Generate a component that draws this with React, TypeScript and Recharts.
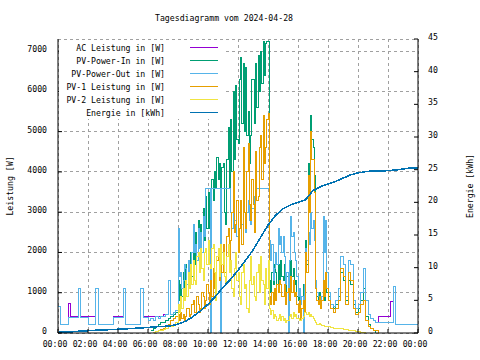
import React from 'react';
import { ComposedChart, Line, XAxis, YAxis, CartesianGrid } from 'recharts';

const FONT = "'DejaVu Sans Mono', 'Liberation Mono', monospace";
const FS = 8.2;

// time grid in minutes: 10-min samples at night, 5-min samples 08:00-17:55, 10-min again until 24:00
const minutes: number[] = [
  ...Array.from({ length: 48 }, (_, i) => i * 10),
  ...Array.from({ length: 120 }, (_, i) => 480 + i * 5),
  ...Array.from({ length: 37 }, (_, i) => 1080 + i * 10),
];

const N = null;

const acPower: (number | null)[] = [
  // 00:00 - 07:50 (10 min)
  650, 200, 200, 200, 740, 410,
  410, 410, 1110, 410, 410, 410,
  400, 400, 400, 1110, 200, 200,
  200, 200, 200, 200, 410, 410,
  410, 410, 1110, 200, 200, 200,
  200, 200, 200, 1110, 410, 410,
  410, 410, 410, 410, 410, 410,
  450, 450, 1300, 450, 500, 550,
  // 08:00 - 17:55 (5 min)
  2600, 1400, 1500, 1100, 1300, 1700, 1600, 1200, 1800, 1400, 1700, 2000,
  2700, 2000, 2200, 1800, 2600, 2100, 2500, 2000, 2900, 2400, 3600, 3600,
  3600, 3600, 400, 3600, 3600, 3600, 3600, 3600, 3600, 3600, 400, 3600,
  3600, 3600, 3600, 3600, 3600, 3600, 3000, 2600, 3400, 2800, 2800, 2400,
  2200, 2600, 3200, 2700, 3500, 3000, 2500, 3000, 3300, 2800, 2700, 3100,
  3100, 3400, 3600, 3600, 3600, 3600, 3600, 3600, 3600, 3600, 3600, 3600,
  3600, 2300, 1800, 2200, 1300, 1600, 2000, 1700, 2600, 2200, 2400, 2000,
  2400, 1900, 1200, 1500, 400, 1800, 2900, 2400, 2500, 2000, 1800, 1400,
  900, 1100, 700, 900, 400, 1200, 2100, 1800, 2500, 2200, 3000, 2600,
  2800, 2300, 1300, 1000, 900, 700, 700, 900, 2900, 2000, 2800, 1500,
  // 18:00 - 24:00 (10 min)
  1000, 700, 650, 800, 1100, 1900,
  1700, 900, 1800, 1700, 800, 600,
  700, 1000, 1600, 800, 450, 350,
  300, 250, 400, 400, 400, 400,
  400, 776, 1150, 200, 200, 200,
  200, 200, 200, 200, 200, 200,
  400,
];

const pvPowerOut: (number | null)[] = [
  650, 200, 200, 200, 380, 380,
  380, 380, 1110, 380, 380, 380,
  200, 200, 200, 1110, 200, 200,
  200, 200, 200, 200, 380, 380,
  380, 380, 1110, 200, 200, 200,
  200, 200, 200, 1110, 380, 380,
  300, 350, 300, 400, 350, 400,
  400, 450, 1300, 450, 500, 550,
  2600, 1400, 1500, 1100, 1300, 1700, 1600, 1200, 1800, 1400, 1700, 2000,
  2700, 2000, 2200, 1800, 2600, 2100, 2500, 2000, 2900, 2400, 3600, 3600,
  3600, 3600, 0, 3600, 3600, 3600, 3600, 3600, 3600, 3600, 0, 3600,
  3600, 3600, 3600, 3600, 3600, 3600, 3000, 2600, 3400, 2800, 2800, 2400,
  2200, 2600, 3200, 2700, 3500, 3000, 2500, 3000, 3300, 2800, 2700, 3100,
  3100, 3400, 3600, 3600, 3600, 3600, 3600, 3600, 3600, 3600, 3600, 3600,
  3600, 2300, 1800, 2200, 1300, 1600, 2000, 1700, 2600, 2200, 2400, 2000,
  2400, 1900, 1200, 1500, 0, 1800, 2900, 2400, 2500, 2000, 1800, 1400,
  900, 1100, 700, 900, 0, 1200, 2100, 1800, 2500, 2200, 3000, 2600,
  2800, 2300, 1300, 1000, 900, 700, 700, 900, 2900, 2000, 2800, 1500,
  1000, 700, 650, 800, 1100, 1900,
  1700, 900, 1800, 1700, 800, 600,
  700, 1000, 1600, 800, 450, 350,
  300, 250, 250, 250, 250, 250,
  250, 250, 1150, 200, 200, 200,
  200, 200, 200, 200, 200, 200,
  400,
];

const pvPowerIn: (number | null)[] = [
  N, N, N, N, N, N,
  N, N, N, N, N, N,
  N, N, N, N, N, N,
  N, N, N, N, N, N,
  N, N, N, N, N, N,
  N, N, N, N, N, N,
  N, 50, 100, 150, 200, 250,
  250, 300, 350, 400, 450, 500,
  1300, 800, 1200, 900, 1500, 1000, 1700, 1200, 1800, 1300, 2000, 1400,
  2300, 1700, 2500, 1900, 2800, 2100, 2700, 2000, 3100, 2300, 3400, 2600,
  3500, 2600, 2900, 3800, 3300, 4000, 3600, 4350, 3800, 4200, 3600, 4100,
  4200, 3000, 2700, 4300, 5100, 3600, 5300, 4000, 6000, 4300, 6150, 4800,
  4700, 6300, 6850, 5200, 6700, 5000, 6600, 4900, 5500, 4200, 4900, 6300,
  6300, 5200, 6700, 5600, 6900, 6000, 7000, 6200, 7250, 6400, 7200, 7250,
  7250, 1300, 1000, 1500, 1200, 1700, 1500, 1200, 1700, 1300, 1800, 1400,
  1300, 1700, 1000, 1400, 1500, 1100, 1800, 1400, 1600, 1200, 1300, 900,
  800, 1000, 700, 900, 1200, 900, 2300, 1700, 4200, 3500, 5400, 4800,
  4600, 3900, 1200, 900, 800, 1000, 700, 900, 1100, 800, 1400, 1000,
  900, 700, 600, 700, 900, 1500,
  1300, 800, 1300, 1200, 700, 500,
  600, 800, 1100, 400, 200, 100,
  50, 0, N, N, N, N,
  N, N, N, N, N, N,
  N, N, N, N, N, N,
  N,
];

const pv1Power: (number | null)[] = [
  N, N, N, N, N, N,
  N, N, N, N, N, N,
  N, N, N, N, N, N,
  N, N, N, N, N, N,
  N, N, N, N, N, N,
  N, N, N, N, N, N,
  N, N, 20, 40, 60, 80,
  100, 150, 200, 300, 350, 400,
  450, 300, 500, 350, 450, 300, 400, 600, 600, 400, 450, 700,
  800, 500, 500, 900, 700, 500, 600, 1000, 900, 600, 800, 1200,
  1000, 700, 1300, 900, 1600, 1100, 1200, 1800, 1900, 1300, 2100, 1500,
  2200, 1500, 1500, 2400, 2600, 1800, 2300, 3000, 4000, 2500, 2700, 3300,
  2000, 2600, 3300, 2200, 4600, 3000, 2600, 4000, 4700, 3200, 2800, 3800,
  3200, 2500, 4500, 3300, 3400, 4600, 4900, 3800, 5400, 4200, 4600, 5300,
  5450, 900, 700, 1000, 700, 1100, 800, 1200, 1000, 1300, 1200, 900,
  900, 1200, 700, 1000, 1100, 800, 1400, 1000, 1300, 900, 1000, 700,
  500, 800, 300, 600, 800, 500, 2000, 1500, 3900, 3000, 5000, 4300,
  4300, 3500, 1100, 800, 700, 900, 600, 800, 1300, 900, 1500, 1100,
  800, 600, 500, 600, 800, 1600,
  1400, 700, 1500, 1300, 600, 450,
  500, 700, 800, 300, 150, 100,
  50, 50, 0, N, N, N,
  N, N, N, N, N, N,
  N, N, N, N, N, N,
  N,
];

const pv2Power: (number | null)[] = [
  N, N, N, N, N, N,
  N, N, N, N, N, N,
  N, N, N, N, N, N,
  N, N, N, N, N, N,
  N, N, N, N, N, N,
  N, N, N, N, N, N,
  N, N, 20, 30, 50, 70,
  80, 100, 150, 150, 200, 250,
  700, 500, 900, 600, 1100, 800, 1300, 900, 1500, 1100, 1700, 1200,
  1800, 1300, 1200, 1900, 2000, 1500, 2100, 1600, 1300, 2000, 2100, 1700,
  2300, 1700, 1600, 2100, 2200, 1500, 800, 1900, 2100, 1400, 2200, 1700,
  2000, 1400, 1200, 1900, 2200, 1500, 1800, 1100, 900, 1600, 2000, 1300,
  1500, 900, 700, 1500, 1700, 1100, 1200, 600, 500, 1300, 1900, 1200,
  1400, 900, 800, 1500, 1700, 1000, 1900, 1300, 1200, 700, 1600, 1100,
  1800, 600, 450, 550, 350, 450, 400, 300, 350, 450, 300, 400,
  300, 350, 250, 300, 300, 400, 450, 350, 500, 400, 450, 350,
  350, 300, 300, 350, 400, 500, 500, 450, 500, 400, 450, 400,
  350, 300, 250, 220, 200, 230, 200, 180, 180, 160, 150, 170,
  150, 130, 120, 120, 100, 100,
  80, 80, 70, 60, 50, 40,
  30, 20, 10, 0, N, N,
  N, N, N, N, N, N,
  N, N, N, N, N, N,
  N, N, N, N, N, N,
  N,
];

// energy (kWh), half-hour samples
const energyMinutes: number[] = [
  0, 30, 60, 90, 120, 150, 180, 210, 240, 270, 300, 330, 360, 390, 420, 450,
  480, 510, 540, 570, 600, 630, 660, 690, 720, 750, 780, 810, 840, 870, 900, 930,
  960, 990, 1020, 1050, 1080, 1110, 1140, 1170, 1200, 1230, 1260, 1290, 1320, 1350, 1380, 1410, 1440,
];
const energyKWh: number[] = [
  0.1, 0.15, 0.2, 0.28, 0.35, 0.42, 0.47, 0.52, 0.57, 0.63, 0.7, 0.77, 0.85, 0.95, 1.0, 1.1,
  1.35, 1.8, 2.5, 3.4, 4.4, 5.6, 7.0, 8.2, 9.6, 11.1, 12.7, 14.6, 16.5, 18.0, 19.0, 19.6,
  20.0, 20.4, 21.8, 22.4, 22.8, 23.2, 23.7, 24.2, 24.5, 24.7, 24.8, 24.82, 24.85, 24.95, 25.1, 25.25, 25.3,
];

const xMajorTicks = [0, 120, 240, 360, 480, 600, 720, 840, 960, 1080, 1200, 1320, 1440];
const xMinorTicks = [0, 60, 120, 180, 240, 300, 360, 420, 480, 540, 600, 660, 720, 780, 840, 900, 960, 1020, 1080, 1140, 1200, 1260, 1320, 1380, 1440];
const leftTicks = [0, 1000, 2000, 3000, 4000, 5000, 6000, 7000];
const rightTicks = [0, 5, 10, 15, 20, 25, 30, 35, 40, 45];

const legendItems = [
  { label: 'AC Leistung in [W]', color: '#9400d3' },
  { label: 'PV-Power-In in [W]', color: '#009e73' },
  { label: 'PV-Power-Out in [W]', color: '#56b4e9' },
  { label: 'PV-1 Leistung in [W]', color: '#e69f00' },
  { label: 'PV-2 Leistung in [W]', color: '#f0e442' },
  { label: 'Energie in [kWh]', color: '#0072b2' },
];

const powerData = minutes.map((t, i) => ({
  t,
  ac: acPower[i],
  pvIn: pvPowerIn[i],
  pvOut: pvPowerOut[i],
  pv1: pv1Power[i],
  pv2: pv2Power[i],
}));
const energyData = energyMinutes.map((t, i) => ({ t, energy: energyKWh[i] }));

const fmtTime = (m: number) => {
  const h = Math.floor(m / 60) % 24;
  return `${String(h).padStart(2, '0')}:00`;
};

const tickStyle = { fontSize: FS, fontFamily: FONT, fill: '#000' };

export default function App() {
  return (
    <div style={{ position: 'absolute', left: 0, top: 0, width: 480, height: 360, background: '#fff' }}>
      <style>{`.recharts-line-curve { shape-rendering: crispEdges; } .recharts-cartesian-grid line { shape-rendering: crispEdges; }`}</style>
      <ComposedChart width={480} height={360} data={powerData} margin={{ top: 39, right: 0, bottom: 0, left: 0 }}>
        <CartesianGrid stroke="#a0a0a0" strokeDasharray="3 3" />
        <XAxis
          dataKey="t"
          type="number"
          domain={[0, 1440]}
          ticks={xMajorTicks}
          interval={0}
          tickFormatter={fmtTime}
          height={27}
          tickSize={-4}
          tickMargin={12.5}
          tick={{ ...tickStyle, dx: -3 }}
          stroke="#000"
          allowDataOverflow
        />
        <XAxis
          xAxisId="top"
          orientation="top"
          dataKey="t"
          type="number"
          domain={[0, 1440]}
          ticks={xMinorTicks}
          interval={0}
          tickFormatter={() => ''}
          height={0}
          tickSize={-3}
          stroke="#000"
          allowDataOverflow
        />
        <YAxis
          type="number"
          domain={[0, 7300]}
          ticks={leftTicks}
          interval={0}
          width={58}
          tickSize={-4}
          tickMargin={15}
          tick={{ ...tickStyle, dy: -2 }}
          stroke="#000"
          allowDataOverflow
        />
        <YAxis
          yAxisId="right"
          orientation="right"
          type="number"
          domain={[0, 45]}
          ticks={rightTicks}
          interval={0}
          width={62}
          tickSize={-4}
          tickMargin={14}
          tick={{ ...tickStyle, dy: -2 }}
          stroke="#000"
          allowDataOverflow
        />
        <Line type="stepAfter" dataKey="ac" stroke="#9400d3" strokeWidth={1} dot={false} isAnimationActive={false} />
        <Line type="stepAfter" dataKey="pvIn" stroke="#009e73" strokeWidth={1} dot={false} isAnimationActive={false} />
        <Line type="stepAfter" dataKey="pvOut" stroke="#56b4e9" strokeWidth={1} dot={false} isAnimationActive={false} />
        <Line type="stepAfter" dataKey="pv1" stroke="#e69f00" strokeWidth={1} dot={false} isAnimationActive={false} />
        <Line type="stepAfter" dataKey="pv2" stroke="#f0e442" strokeWidth={1} dot={false} isAnimationActive={false} />
        <Line
          yAxisId="right"
          data={energyData}
          type="linear"
          dataKey="energy"
          stroke="#0072b2"
          strokeWidth={1.6}
          dot={false}
          isAnimationActive={false}
        />
      </ComposedChart>
      <svg width={480} height={360} style={{ position: 'absolute', left: 0, top: 0, pointerEvents: 'none' }}>
        <text x={224} y={18} textAnchor="middle" dominantBaseline="central" fontFamily={FONT} fontSize={FS} fill="#000">
          Tagesdiagramm vom 2024-04-28
        </text>
        <text transform="translate(10,186) rotate(-90)" textAnchor="middle" dominantBaseline="central" fontFamily={FONT} fontSize={FS} fill="#000">
          Leistung [W]
        </text>
        <text transform="translate(470,186) rotate(-90)" textAnchor="middle" dominantBaseline="central" fontFamily={FONT} fontSize={FS} fill="#000">
          Energie [kWh]
        </text>
        <rect x={59} y={40} width={166} height={79} fill="#fff" />
        {legendItems.map((it, i) => (
          <g key={it.label}>
            <text x={165} y={47.7 + i * 13} textAnchor="end" dominantBaseline="central" fontFamily={FONT} fontSize={FS} fill="#000">
              {it.label}
            </text>
            <line x1={190} x2={218} y1={47.7 + i * 13} y2={47.7 + i * 13} stroke={it.color} strokeWidth={1.2} shapeRendering="crispEdges" />
          </g>
        ))}
      </svg>
    </div>
  );
}
